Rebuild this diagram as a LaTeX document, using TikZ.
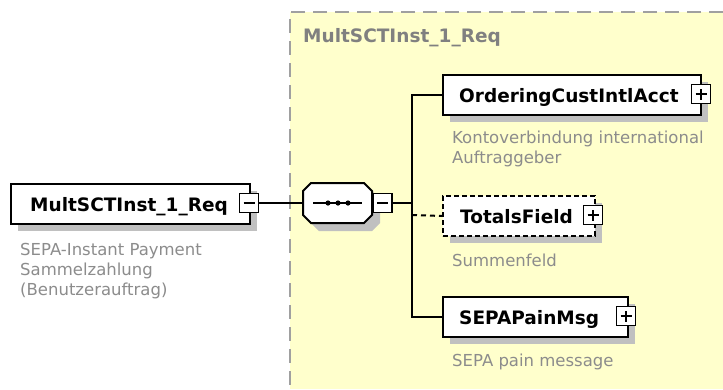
\documentclass[tikz,border=0pt]{standalone}
\usepackage{fontspec}
\setmainfont{DejaVu Sans}
\definecolor{yellowbg}{RGB}{255,255,204}
\definecolor{areaborder}{RGB}{160,160,160}
\definecolor{shadowgray}{RGB}{192,192,192}
\definecolor{descgray}{RGB}{140,140,140}
\definecolor{titlegray}{RGB}{128,128,128}
\tikzset{
  elbox/.style={draw=black, line width=2pt, fill=white, inner sep=0pt, anchor=north west},
  optbox/.style={elbox, dash pattern=on 5pt off 3pt},
  shadowbox/.style={fill=shadowgray, draw=none, inner sep=0pt, anchor=north west},
  pmbox/.style={draw=black, line width=1.5pt, fill=white, inner sep=0pt, minimum size=19pt},
  sign/.style={line width=1.5pt},
  conn/.style={line width=2pt},
  optconn/.style={conn, dash pattern=on 5pt off 4pt},
  boldlbl/.style={font=\fontsize{18.5}{22}\selectfont\bfseries, inner sep=0pt, anchor=base west},
  desc/.style={font=\fontsize{16.5}{20}\selectfont, text=descgray, inner sep=0pt, anchor=base west, align=left},
  areatitle/.style={boldlbl, text=titlegray},
}
\begin{document}
\begin{tikzpicture}[x=1pt,y=-1pt]
\useasboundingbox (0,0) rectangle (723,389);
\fill[white] (0,0) rectangle (723,389);
% complex type area
\fill[yellowbg] (290,12) rectangle (723,389);
\draw[areaborder, line width=2pt, dash pattern=on 14pt off 8pt] (723,12) -- (290,12) -- (290,389);
\node[areatitle] (areaT) at (303,42) {MultSCTInst\_1\_Req};

% root element
\node[shadowbox, minimum width=239pt, minimum height=40pt] (rootS) at (18,191) {};
\node[elbox, minimum width=239pt, minimum height=40pt] (root) at (10,183) {};
\node[boldlbl] (rootL) at (30,211) {MultSCTInst\_1\_Req};
\node[pmbox] (rootpm) at (249,203) {};
\draw[sign] ([xshift=-5.5pt]rootpm.center) -- ([xshift=5.5pt]rootpm.center);
\node[desc] (rootD) at (20,295) {SEPA-Instant Payment\\Sammelzahlung\\(Benutzerauftrag)};

% sequence compositor
\fill[shadowgray] (319,191) -- (372,191) -- (380,199) -- (380,223) -- (372,231) -- (319,231) -- (311,223) -- (311,199) -- cycle;
\draw[line width=2pt, fill=white] (311,183) -- (364,183) -- (372,191) -- (372,215) -- (364,223) -- (311,223) -- (303,215) -- (303,191) -- cycle;
\coordinate (seqL) at (303,203);
\draw[line width=1.5pt] (313,203) -- (362,203);
\foreach \dx in {328,338,348} \fill (\dx,203) circle (2.6pt);
\node[pmbox, anchor=west] (seqpm) at (372,203) {};
\draw[sign] ([xshift=-5.5pt]seqpm.center) -- ([xshift=5.5pt]seqpm.center);
\coordinate (branch) at (412,203);
\coordinate (branchT) at (412,215);

% OrderingCustIntlAcct
\node[shadowbox, minimum width=258pt, minimum height=40pt] (ordS) at (450,82) {};
\node[elbox, minimum width=258pt, minimum height=40pt] (ord) at (442,74) {};
\node[boldlbl] (ordL) at (459,102) {OrderingCustIntlAcct};
\node[pmbox] (ordpm) at (701,94) {};
\draw[sign] ([xshift=-5.5pt]ordpm.center) -- ([xshift=5.5pt]ordpm.center);
\draw[sign] ([yshift=-5.5pt]ordpm.center) -- ([yshift=5.5pt]ordpm.center);
\node[desc] (ordD) at (452,163) {Kontoverbindung international\\Auftraggeber};

% TotalsField (optional)
\node[shadowbox, minimum width=152pt, minimum height=40pt] (totS) at (450,203) {};
\node[optbox, minimum width=152pt, minimum height=40pt] (tot) at (442,195) {};
\node[boldlbl] (totL) at (460,223) {TotalsField};
\node[pmbox] (totpm) at (593,215) {};
\draw[sign] ([xshift=-5.5pt]totpm.center) -- ([xshift=5.5pt]totpm.center);
\draw[sign] ([yshift=-5.5pt]totpm.center) -- ([yshift=5.5pt]totpm.center);
\node[desc] (totD) at (452,266) {Summenfeld};

% SEPAPainMsg
\node[shadowbox, minimum width=185pt, minimum height=40pt] (sepaS) at (450,304) {};
\node[elbox, minimum width=185pt, minimum height=40pt] (sepa) at (442,296) {};
\node[boldlbl] (sepaL) at (459,324) {SEPAPainMsg};
\node[pmbox] (sepapm) at (626,316) {};
\draw[sign] ([xshift=-5.5pt]sepapm.center) -- ([xshift=5.5pt]sepapm.center);
\draw[sign] ([yshift=-5.5pt]sepapm.center) -- ([yshift=5.5pt]sepapm.center);
\node[desc] (sepaD) at (452,366) {SEPA pain message};

% connectors
\draw[conn] (rootpm.east) -- (seqL);
\draw[conn] (seqpm.east) -- (branch);
\draw[conn] (ord.west) -| (branch) |- (sepa.west);
\draw[optconn] (branchT) -- (tot.west);
\end{tikzpicture}
\end{document}
